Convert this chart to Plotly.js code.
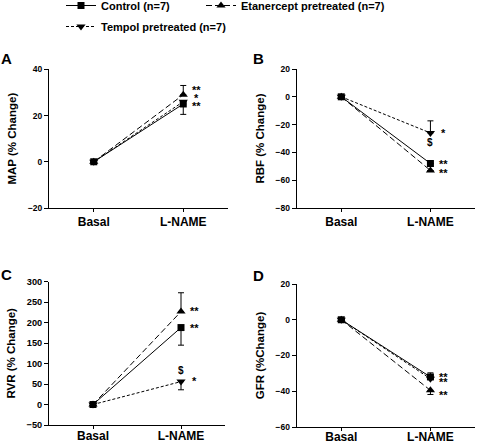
<!DOCTYPE html>
<html>
<head>
<meta charset="utf-8">
<script src="https://cdn.plot.ly/plotly-3.0.1.min.js"></script>
<style>
html,body{margin:0;padding:0;background:#fff;}
#chart{width:477px;height:446px;}
</style>
</head>
<body>
<div id="chart"></div>
<script>
// ---- data ----
var categories = ["Basal", "L-NAME"];
var seriesNames = ["Control (n=7)", "Etanercept pretreated (n=7)", "Tempol pretreated (n=7)"];

var mapControl = [0, 25];   var mapControlErrUp = [0, 0];   var mapControlErrDn = [0, 4.5];
var mapEtan    = [0, 29];   var mapEtanErrUp    = [0, 4];   var mapEtanErrDn    = [0, 0];
var mapTempol  = [0, 26];   var mapTempolErrUp  = [0, 0];   var mapTempolErrDn  = [0, 0];

var rbfControl = [0, -48];  var rbfControlErrUp = [0, 0];   var rbfControlErrDn = [0, 0];
var rbfEtan    = [0, -53];  var rbfEtanErrUp    = [0, 0];   var rbfEtanErrDn    = [0, 0];
var rbfTempol  = [0, -26];  var rbfTempolErrUp  = [0, 8.7]; var rbfTempolErrDn  = [0, 0];

var rvrControl = [0, 188];  var rvrControlErrUp = [0, 0];   var rvrControlErrDn = [0, 43];
var rvrEtan    = [0, 227];  var rvrEtanErrUp    = [0, 46];  var rvrEtanErrDn    = [0, 0];
var rvrTempol  = [0, 56];   var rvrTempolErrUp  = [0, 0];   var rvrTempolErrDn  = [0, 20];

var gfrControl = [0, -32];  var gfrControlErrUp = [0, 2.3]; var gfrControlErrDn = [0, 0];
var gfrEtan    = [0, -39.5];var gfrEtanErrUp    = [0, 0];   var gfrEtanErrDn    = [0, 2.3];
var gfrTempol  = [0, -33];  var gfrTempolErrUp  = [0, 0];   var gfrTempolErrDn  = [0, 0];

// significance marks at L-NAME
var mapMarks = ["**", "*", "**"];      var mapMarkY = [31, 27.5, 24];
var rbfMarks = ["*", "$", "**", "**"]; var rbfMarkY = [-26.3, -32.8, -48.4, -55];
var rvrMarks = ["**", "**", "$", "*"]; var rvrMarkY = [229, 186.4, 83, 57.8];
var gfrMarks = ["**", "**", "**"];     var gfrMarkY = [-32, -34.8, -42];

var panelLabels = ["A", "B", "C", "D"];
var yTitles = ["MAP (% Change)", "RBF (% Change)", "RVR (% Change)", "GFR (%Change)"];
var yRanges = [[-20, 40], [-80, 20], [-50, 300], [-60, 20]];
var yTicks = [[-20, 0, 20, 40], [-80, -60, -40, -20, 0, 20], [-50, 0, 50, 100, 150, 200, 250, 300], [-60, -40, -20, 0, 20]];

// ---- layout helpers ----
var W = 477, H = 446;
function fx(p){ return p / W; }
function fy(p){ return 1 - p / H; }
var FONT = "Liberation Sans, Arial, sans-serif";

var panels = [
  {c: mapControl, cu: mapControlErrUp, cd: mapControlErrDn, e: mapEtan, eu: mapEtanErrUp, ed: mapEtanErrDn, t: mapTempol, tu: mapTempolErrUp, td: mapTempolErrDn, marks: mapMarks, markY: mapMarkY,
   xd: [fx(49), fx(228)], yd: [fy(208), fy(69.3)], lab: [6, 58.5], std: 0, tfs: 8.5},
  {c: rbfControl, cu: rbfControlErrUp, cd: rbfControlErrDn, e: rbfEtan, eu: rbfEtanErrUp, ed: rbfEtanErrDn, t: rbfTempol, tu: rbfTempolErrUp, td: rbfTempolErrDn, marks: rbfMarks, markY: rbfMarkY,
   xd: [fx(296.7), fx(475)], yd: [fy(208), fy(69)], lab: [258, 58.5], std: 0, tfs: 8.5},
  {c: rvrControl, cu: rvrControlErrUp, cd: rvrControlErrDn, e: rvrEtan, eu: rvrEtanErrUp, ed: rvrEtanErrDn, t: rvrTempol, tu: rvrTempolErrUp, td: rvrTempolErrDn, marks: rvrMarks, markY: rvrMarkY,
   xd: [fx(49), fx(225)], yd: [fy(425), fy(281.7)], lab: [6, 274], std: -3, tfs: 9.2},
  {c: gfrControl, cu: gfrControlErrUp, cd: gfrControlErrDn, e: gfrEtan, eu: gfrEtanErrUp, ed: gfrEtanErrDn, t: gfrTempol, tu: gfrTempolErrUp, td: gfrTempolErrDn, marks: gfrMarks, markY: gfrMarkY,
   xd: [fx(296.7), fx(475)], yd: [fy(427), fy(284)], lab: [258, 275], std: -4, tfs: 8.5}
];

var legFont = {family: FONT, size: 11, weight: "bold", color: "#000"};
var traces = [];
var layout = {
  width: W, height: H,
  margin: {l: 0, r: 0, t: 0, b: 0, autoexpand: false},
  paper_bgcolor: "#fff", plot_bgcolor: "rgba(0,0,0,0)",
  font: {family: FONT, color: "#000", weight: "bold"},
  showlegend: true,
  legend:  {orientation: "h", x: fx(61), xanchor: "left", y: fy(-9), yanchor: "top", font: legFont, bgcolor: "rgba(0,0,0,0)", itemwidth: 30},
  legend2: {orientation: "h", x: fx(201), xanchor: "left", y: fy(-9), yanchor: "top", font: legFont, bgcolor: "rgba(0,0,0,0)", itemwidth: 30},
  legend3: {orientation: "h", x: fx(61), xanchor: "left", y: fy(12), yanchor: "top", font: legFont, bgcolor: "rgba(0,0,0,0)", itemwidth: 30},
  annotations: []
};

function errObj(up, dn){
  return {type: "data", symmetric: false, array: up, arrayminus: dn, color: "#000", thickness: 1, width: 3, visible: true};
}

panels.forEach(function(p, i){
  var xa = "x" + (i === 0 ? "" : (i + 1));
  var ya = "y" + (i === 0 ? "" : (i + 1));
  var first = (i === 0);
  traces.push({
    type: "scatter", mode: "lines+markers", x: categories, y: p.t, xaxis: xa, yaxis: ya,
    name: seriesNames[2], legend: "legend3", showlegend: first,
    line: {color: "#000", width: 1, dash: "3px,2px"},
    marker: {symbol: "triangle-down", size: 8, color: "#000"},
    error_y: errObj(p.tu, p.td), cliponaxis: false
  });
  traces.push({
    type: "scatter", mode: "lines+markers", x: categories, y: p.e, xaxis: xa, yaxis: ya,
    name: seriesNames[1], legend: "legend2", showlegend: first,
    line: {color: "#000", width: 1, dash: "6px,3px"},
    marker: {symbol: "triangle-up", size: 8, color: "#000"},
    error_y: errObj(p.eu, p.ed), cliponaxis: false
  });
  traces.push({
    type: "scatter", mode: "lines+markers", x: categories, y: p.c, xaxis: xa, yaxis: ya,
    name: seriesNames[0], legend: "legend", showlegend: first,
    line: {color: "#000", width: 1},
    marker: {symbol: "square", size: 7, color: "#000"},
    error_y: errObj(p.cu, p.cd), cliponaxis: false
  });

  var xk = "xaxis" + (i === 0 ? "" : (i + 1));
  var yk = "yaxis" + (i === 0 ? "" : (i + 1));
  layout[xk] = {
    domain: p.xd, anchor: ya, type: "category", range: [-0.5, 1.5],
    showline: true, linecolor: "#000", linewidth: 1, showgrid: false, zeroline: false,
    ticks: "outside", ticklen: 3, tickwidth: 1, tickcolor: "#000", ticklabelstandoff: p.std,
    tickfont: {family: FONT, size: 12, weight: "bold", color: "#000"}, fixedrange: true
  };
  layout[yk] = {
    domain: p.yd, anchor: xa, range: yRanges[i], tickvals: yTicks[i],
    showline: true, linecolor: "#000", linewidth: 1, showgrid: false, zeroline: false,
    ticks: "outside", ticklen: 4, tickwidth: 1, tickcolor: "#000",
    tickfont: {family: FONT, size: p.tfs, weight: "bold", color: "#000"},
    title: {text: yTitles[i], font: {family: FONT, size: 11.5, weight: "bold", color: "#000"}, standoff: 8},
    fixedrange: true
  };

  p.marks.forEach(function(m, k){
    var isDollar = (m === "$");
    layout.annotations.push({
      xref: xa, yref: ya, x: categories[1], y: p.markY[k], text: m, showarrow: false,
      xanchor: "center", yanchor: "middle",
      xshift: (isDollar ? 0 : 13), yshift: 0,
      font: {family: FONT, size: (isDollar ? 10 : 11), weight: "bold", color: "#000"}
    });
  });

  layout.annotations.push({
    xref: "paper", yref: "paper", x: fx(p.lab[0]), y: fy(p.lab[1]), text: panelLabels[i], showarrow: false,
    xanchor: "center", yanchor: "middle",
    font: {family: FONT, size: 15, weight: "bold", color: "#000"}
  });
});

Plotly.newPlot("chart", traces, layout, {staticPlot: true, displayModeBar: false});
</script>
</body>
</html>
